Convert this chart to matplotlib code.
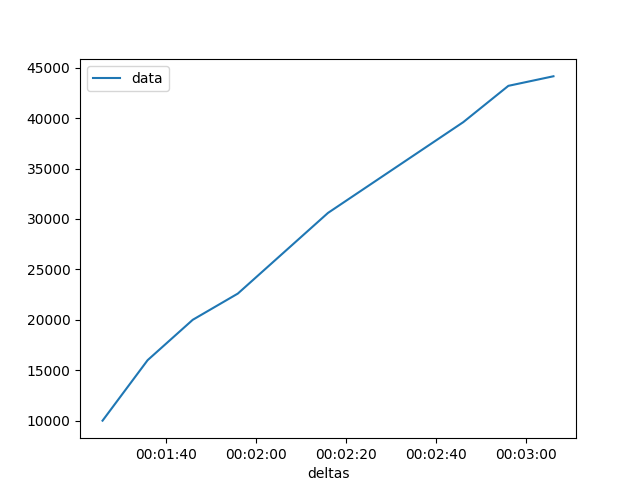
import matplotlib

matplotlib.use("Agg")
import matplotlib.pyplot as plt
from matplotlib.ticker import FuncFormatter

seconds = [86, 96, 106, 116, 136, 166, 176, 186]
values = [10000, 16000, 20000, 22600, 30600, 39600, 43200, 44150]


def hms(x, pos=None):
    s = int(round(x))
    return f"{s // 3600:02d}:{s % 3600 // 60:02d}:{s % 60:02d}"


fig, ax = plt.subplots(figsize=(6.4, 4.92), dpi=100)
ax.plot(seconds, values, label="data")
ax.xaxis.set_major_formatter(FuncFormatter(hms))
ax.set_xlabel("deltas")
ax.legend(loc="upper left")
fig.savefig("out.png", dpi=100)
